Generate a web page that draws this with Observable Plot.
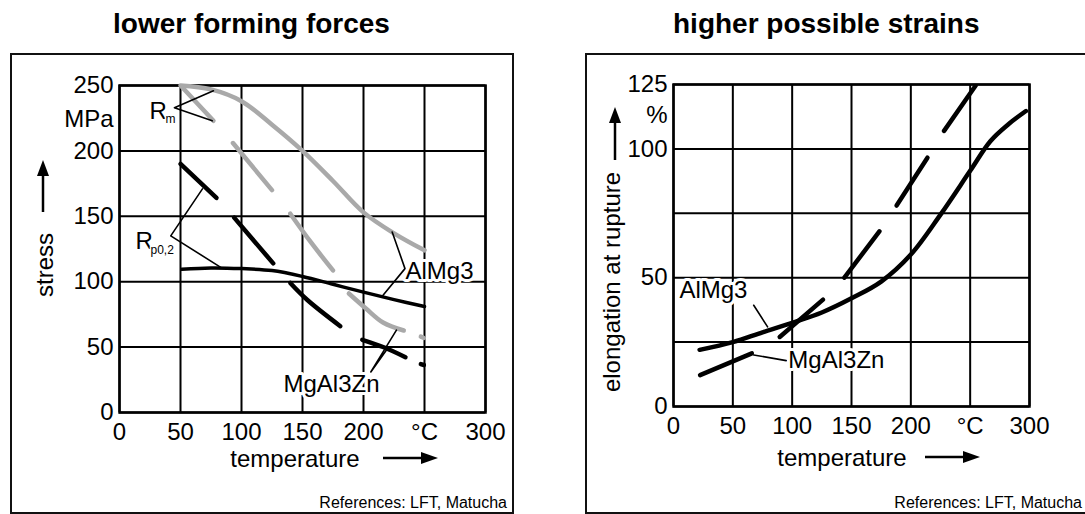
<!DOCTYPE html>
<html><head><meta charset="utf-8">
<script src="https://cdn.jsdelivr.net/npm/d3@7"></script>
<script src="https://cdn.jsdelivr.net/npm/@observablehq/plot@0.6"></script>
<style>
html,body{margin:0;padding:0;background:#fff;}
#page{position:relative;width:1085px;height:514px;overflow:hidden;font-family:"Liberation Sans",Arial,Helvetica,sans-serif;}
#deco{position:absolute;left:0;top:0;}
.panel{position:absolute;top:0;}
.panel svg{background:transparent;}
</style></head><body>
<div id="page">
<svg id="deco" width="1085" height="514" font-family="Liberation Sans, Arial, sans-serif">
  <rect x="11" y="54" width="502" height="459" fill="none" stroke="#111" stroke-width="2"/>
  <rect x="586" y="54" width="510" height="459" fill="none" stroke="#111" stroke-width="2"/>
  <text x="113" y="33" font-size="28" font-weight="bold">lower forming forces</text>
  <text x="673" y="33" font-size="28" font-weight="bold">higher possible strains</text>
  <text x="295" y="467" font-size="24" text-anchor="middle">temperature</text>
  <text x="842" y="466" font-size="24" text-anchor="middle">temperature</text>
  <line x1="383" y1="458" x2="424" y2="458" stroke="#000" stroke-width="2.5"/>
  <polygon points="438,458 421,452 421,464" fill="#000"/>
  <line x1="925" y1="457" x2="966" y2="457" stroke="#000" stroke-width="2.5"/>
  <polygon points="980,457 963,451 963,463" fill="#000"/>
  <text transform="translate(53,265) rotate(-90)" font-size="24" text-anchor="middle">stress</text>
  <line x1="43" y1="212" x2="43" y2="172" stroke="#000" stroke-width="2.5"/>
  <polygon points="43,160 37,176 49,176" fill="#000"/>
  <text transform="translate(620,282) rotate(-90)" font-size="24" text-anchor="middle">elongation at rupture</text>
  <line x1="615" y1="160" x2="615" y2="119" stroke="#000" stroke-width="2.5"/>
  <polygon points="615,107 609,123 621,123" fill="#000"/>
  <text x="507" y="508" font-size="16" text-anchor="end">References: LFT, Matucha</text>
  <text x="1082" y="508" font-size="16" text-anchor="end">References: LFT, Matucha</text>
</svg>
<div id="left" class="panel" style="left:0px"></div>
<div id="right" class="panel" style="left:545px"></div>
</div>
<script>
// ---------- axes / ticks ----------
const xTicks = [0, 50, 100, 150, 200, 250, 300];
const xTickLabels = ["0", "50", "100", "150", "200", "°C", "300"];
const stressGrid = [0, 50, 100, 150, 200, 250];
const stressTicks = [0, 50, 100, 150, 200, 224, 250];
const stressTickLabels = ["0", "50", "100", "150", "200", "MPa", "250"];
const strainGrid = [0, 25, 50, 75, 100, 125];
const strainTicks = [0, 50, 100, 113, 125];
const strainTickLabels = ["0", "50", "100", "%", "125"];

// ---------- left panel: stress vs temperature ----------
// Rm, AlMg3 (grey solid)
const rmAlMg3T = [50, 75, 100, 125, 150, 175, 200, 225, 250];
const rmAlMg3S = [250, 247, 238, 220, 200, 177, 153, 137, 124];
// Rm, MgAl3Zn (grey dashed: visible dash pieces)
const rmMgAl3ZnT   = [51, 77,  93, 125,  140, 157, 175,  188, 202, 216, 233,  247, 249.5];
const rmMgAl3ZnS   = [249, 223, 206, 170, 152, 130, 108.6, 91, 79.5, 68.8, 62.7, 58, 57];
const rmMgAl3ZnSeg = [1, 1, 2, 2, 3, 3, 3, 4, 4, 4, 4, 5, 5];
// Rp0,2, AlMg3 (black solid)
const rpAlMg3T = [51, 75, 100, 125, 150, 175, 200, 225, 250];
const rpAlMg3S = [109.5, 110.5, 110, 108.5, 104, 98, 92, 86.3, 81];
// Rp0,2, MgAl3Zn (black dashed)
const rpMgAl3ZnT   = [50, 79.5, 94, 126, 140, 154, 181, 199, 216.6, 234.4, 247, 249.5];
const rpMgAl3ZnS   = [190, 164, 149, 114, 99, 86, 66, 55.6, 49.9, 42.3, 37, 36.3];
const rpMgAl3ZnSeg = [1, 1, 2, 2, 3, 3, 3, 4, 4, 4, 5, 5];
// leader lines
const leadLT  = [77, 45, 76,   68, 42, 83,   223.5, 234, 215,   227, 206, 219];
const leadLS  = [246, 233, 223, 171, 135, 111, 138, 110, 88.5,  63, 31, 48];
const leadLId = [1, 1, 1, 2, 2, 2, 3, 3, 3, 4, 4, 4];
// labels
const labLText = ["R", "R", "AlMg3", "MgAl3Zn"];
const labLT = [24.6, 13.1, 234.4, 134.4];
const labLS = [230, 131, 108, 21.4];
const subLText = ["m", "p0,2"];
const subLT = [37.7, 25.4];
const subLS = [224, 124];

// ---------- right panel: elongation vs temperature ----------
const elAlMg3T = [22, 50, 75, 100, 125, 150, 175, 200, 225, 250, 267, 282, 297];
const elAlMg3E = [22, 25, 28.8, 32.5, 36.5, 42, 48.5, 59, 74.5, 91.5, 103, 109.5, 114.7];
const elMgAl3ZnT   = [22.4, 66, 89.5, 126, 144, 173.5, 188, 214, 228, 254.5];
const elMgAl3ZnE   = [12.2, 20.6, 27, 41.5, 50, 68, 78, 96.6, 107, 124.5];
const elMgAl3ZnSeg = [1, 1, 2, 2, 3, 3, 4, 4, 5, 5];
const leadRT  = [67.6, 79.3, 95, 67.6];
const leadRE  = [39.3, 30.9, 17.8, 20];
const leadRId = [1, 1, 2, 2];
const labRText = ["AlMg3", "MgAl3Zn"];
const labRT = [5, 96.8];
const labRE = [45, 17.8];

// ---------- helpers ----------
const rows = (xs, ys, zs) => xs.map((x, i) => ({x, y: ys[i], z: zs ? zs[i] : 0}));
const textRows = (txt, xs, ys) => txt.map((t, i) => ({t, x: xs[i], y: ys[i]}));
const FONT = "Liberation Sans, Arial, Helvetica, sans-serif";
const GREY = "#a9a9a9";
const lookup = (ticks, labels) => d => labels[ticks.indexOf(d)];

function gridAndAxes(yGrid, yTicks, yLabels) {
  return [
    Plot.gridX(xTicks, {stroke: "#000", strokeOpacity: 1, strokeWidth: 2}),
    Plot.gridY(yGrid, {stroke: "#000", strokeOpacity: 1, strokeWidth: 2}),
    Plot.frame({stroke: "#000", strokeWidth: 2.5}),
    Plot.axisX({ticks: xTicks, tickFormat: lookup(xTicks, xTickLabels), tickSize: 0, tickPadding: 10, fontSize: 24, label: null}),
    Plot.axisY({ticks: yTicks, tickFormat: lookup(yTicks, yLabels), tickSize: 0, tickPadding: 6, fontSize: 24, label: null})
  ];
}
const halo = {stroke: "white", strokeWidth: 6, paintOrder: "stroke", fill: "black", textAnchor: "start"};

const left = Plot.plot({
  width: 540, height: 514,
  marginLeft: 119, marginRight: 55, marginTop: 85, marginBottom: 102,
  x: {domain: [0, 300]},
  y: {domain: [0, 250]},
  style: {fontFamily: FONT, fontSize: "24px", background: "transparent", color: "black", overflow: "visible"},
  marks: [
    ...gridAndAxes(stressGrid, stressTicks, stressTickLabels),
    Plot.line(rows(rmAlMg3T, rmAlMg3S), {x: "x", y: "y", stroke: GREY, strokeWidth: 4.5, curve: "catmull-rom"}),
    Plot.line(rows(rmMgAl3ZnT, rmMgAl3ZnS, rmMgAl3ZnSeg), {x: "x", y: "y", z: "z", stroke: GREY, strokeWidth: 4.5, curve: "catmull-rom"}),
    Plot.line(rows(rpAlMg3T, rpAlMg3S), {x: "x", y: "y", stroke: "#000", strokeWidth: 3.5, curve: "catmull-rom"}),
    Plot.line(rows(rpMgAl3ZnT, rpMgAl3ZnS, rpMgAl3ZnSeg), {x: "x", y: "y", z: "z", stroke: "#000", strokeWidth: 4.5, curve: "catmull-rom"}),
    Plot.line(rows(leadLT, leadLS, leadLId), {x: "x", y: "y", z: "z", stroke: "#000", strokeWidth: 1.6}),
    Plot.text(textRows(labLText, labLT, labLS), {x: "x", y: "y", text: "t", fontSize: 24, ...halo}),
    Plot.text(textRows(subLText, subLT, subLS), {x: "x", y: "y", text: "t", fontSize: 12, ...halo, strokeWidth: 3})
  ]
});
document.getElementById("left").appendChild(left);

const right = Plot.plot({
  width: 540, height: 514,
  marginLeft: 128, marginRight: 56, marginTop: 84, marginBottom: 108,
  x: {domain: [0, 300]},
  y: {domain: [0, 125]},
  style: {fontFamily: FONT, fontSize: "24px", background: "transparent", color: "black", overflow: "visible"},
  marks: [
    ...gridAndAxes(strainGrid, strainTicks, strainTickLabels),
    Plot.line(rows(elAlMg3T, elAlMg3E), {x: "x", y: "y", stroke: "#000", strokeWidth: 4.5, curve: "catmull-rom", clip: true}),
    Plot.line(rows(elMgAl3ZnT, elMgAl3ZnE, elMgAl3ZnSeg), {x: "x", y: "y", z: "z", stroke: "#000", strokeWidth: 4.5, clip: true}),
    Plot.line(rows(leadRT, leadRE, leadRId), {x: "x", y: "y", z: "z", stroke: "#000", strokeWidth: 1.6}),
    Plot.text(textRows(labRText, labRT, labRE), {x: "x", y: "y", text: "t", fontSize: 24, ...halo})
  ]
});
document.getElementById("right").appendChild(right);
</script>
</body></html>
